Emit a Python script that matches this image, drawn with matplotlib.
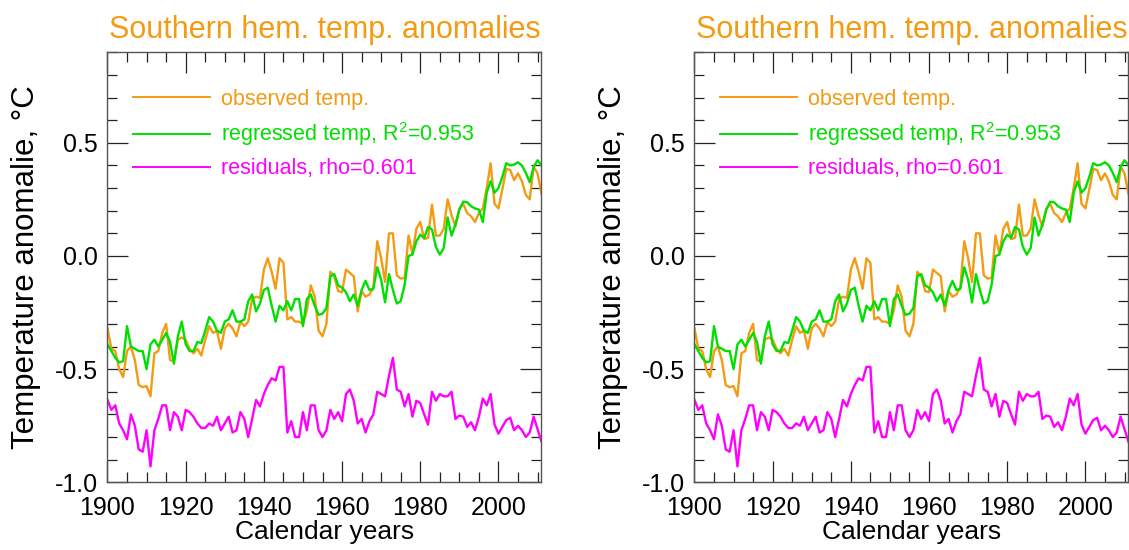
import numpy as np
import matplotlib
matplotlib.use("Agg")
from matplotlib import pyplot as plt
from matplotlib.ticker import MultipleLocator

plt.rcParams['font.family'] = ['Liberation Sans', 'DejaVu Sans']
plt.rcParams['mathtext.fontset'] = 'custom'
plt.rcParams['mathtext.rm'] = 'Liberation Sans'

years = np.arange(1900, 2012)

observed = [
    -0.32, -0.41, -0.42, -0.50, -0.535, -0.42, -0.40, -0.46, -0.57, -0.58,
    -0.575, -0.62, -0.43, -0.42, -0.34, -0.30, -0.46, -0.466, -0.37, -0.36,
    -0.37, -0.41, -0.43, -0.41, -0.44, -0.37, -0.31, -0.34, -0.33, -0.41,
    -0.32, -0.30, -0.32, -0.355, -0.29, -0.31, -0.29, -0.19, -0.18, -0.185,
    -0.06, -0.01, -0.07, -0.145, -0.01, -0.03, -0.28, -0.27, -0.29, -0.29,
    -0.30, -0.24, -0.13, -0.18, -0.33, -0.355, -0.30, -0.07, -0.09, -0.155,
    -0.16, -0.06, -0.075, -0.09, -0.245, -0.155, -0.18, -0.17, -0.14, 0.065,
    -0.01, -0.115, 0.10, 0.10, -0.085, -0.10, -0.097, 0.09, 0.01, 0.12,
    0.15, 0.075, 0.08, 0.227, 0.09, 0.09, 0.12, 0.25, 0.18, 0.13,
    0.21, 0.23, 0.19, 0.175, 0.15, 0.19, 0.21, 0.30, 0.41, 0.23,
    0.21, 0.295, 0.385, 0.38, 0.335, 0.365, 0.33, 0.27, 0.25, 0.395,
    0.365, 0.275,
]

regressed = [
    -0.39, -0.42, -0.45, -0.47, -0.465, -0.31, -0.40, -0.41, -0.42, -0.42,
    -0.50, -0.39, -0.37, -0.40, -0.37, -0.34, -0.38, -0.476, -0.355, -0.29,
    -0.39, -0.42, -0.42, -0.38, -0.385, -0.33, -0.27, -0.29, -0.33, -0.34,
    -0.29, -0.28, -0.24, -0.29, -0.29, -0.28, -0.20, -0.17, -0.245, -0.21,
    -0.15, -0.14, -0.22, -0.29, -0.22, -0.24, -0.20, -0.24, -0.19, -0.19,
    -0.31, -0.19, -0.17, -0.22, -0.26, -0.255, -0.23, -0.09, -0.08, -0.13,
    -0.14, -0.16, -0.20, -0.17, -0.22, -0.15, -0.11, -0.15, -0.145, -0.05,
    -0.105, -0.205, -0.08, -0.15, -0.21, -0.20, -0.127, 0.0, 0.006, 0.065,
    0.094, 0.08, 0.128, 0.117, 0.04, 0.006, 0.035, 0.17, 0.09, 0.14,
    0.205, 0.24, 0.237, 0.22, 0.21, 0.205, 0.15, 0.28, 0.33, 0.28,
    0.30, 0.35, 0.41, 0.40, 0.404, 0.414, 0.40, 0.367, 0.326, 0.394,
    0.423, 0.40,
]

# residuals as drawn (shifted down in the plot)
residuals = [
    -0.636, -0.68, -0.66, -0.74, -0.77, -0.81, -0.70, -0.75, -0.855, -0.865,
    -0.77, -0.93, -0.77, -0.72, -0.66, -0.66, -0.77, -0.69, -0.71, -0.77,
    -0.68, -0.69, -0.71, -0.74, -0.76, -0.76, -0.74, -0.75, -0.71, -0.77,
    -0.74, -0.71, -0.78, -0.77, -0.69, -0.72, -0.80, -0.72, -0.636, -0.665,
    -0.61, -0.57, -0.54, -0.55, -0.49, -0.49, -0.78, -0.73, -0.80, -0.80,
    -0.69, -0.77, -0.66, -0.66, -0.77, -0.80, -0.77, -0.68, -0.72, -0.69,
    -0.73, -0.61, -0.59, -0.64, -0.74, -0.72, -0.78, -0.73, -0.70, -0.60,
    -0.61, -0.62, -0.53, -0.45, -0.59, -0.60, -0.665, -0.61, -0.71, -0.64,
    -0.65, -0.70, -0.745, -0.60, -0.64, -0.61, -0.62, -0.62, -0.60, -0.72,
    -0.705, -0.71, -0.755, -0.735, -0.77, -0.71, -0.63, -0.66, -0.61, -0.745,
    -0.785, -0.755, -0.725, -0.715, -0.77, -0.75, -0.77, -0.80, -0.78, -0.71,
    -0.765, -0.82,
]

r2 = 0.953
rho = 0.601

ORANGE = '#F39B12'
GREEN = '#00E000'
MAGENTA = '#FF00FF'


def draw_panel(ax):
    ax.plot(years, observed, color=ORANGE, lw=1.7, label='observed temp.')
    ax.plot(years, regressed, color=GREEN, lw=1.7,
            label='regressed temp, R$^2$=%.3f' % r2)
    ax.plot(years, residuals, color=MAGENTA, lw=1.7,
            label='residuals, rho=%.3f' % rho)
    ax.set_xlim(1900, 2011)
    ax.set_ylim(-1.0, 0.9)
    ax.xaxis.set_major_locator(MultipleLocator(20))
    ax.xaxis.set_minor_locator(MultipleLocator(5))
    ax.yaxis.set_major_locator(MultipleLocator(0.5))
    ax.yaxis.set_minor_locator(MultipleLocator(0.1))
    ax.yaxis.set_major_formatter(lambda v, p: '%.1f' % v)
    ax.tick_params(which='both', direction='in', top=True, right=True,
                   labelsize=18, width=0.9, color='#222222')
    ax.tick_params(which='major', length=15)
    ax.tick_params(axis='x', which='major', pad=10)
    ax.tick_params(axis='y', which='major', pad=7)
    ax.tick_params(which='minor', length=7.5)
    for s in ax.spines.values():
        s.set_color('#555555')
        s.set_linewidth(1.0)
    ax.set_xlabel('Calendar years', fontsize=19, labelpad=0)
    ax.set_ylabel('Temperature anomalie, °C', fontsize=22.5, labelpad=10)
    ax.set_title('Southern hem. temp. anomalies', color=ORANGE,
                 fontsize=22, pad=10)
    leg = ax.legend(loc='upper left', bbox_to_anchor=(0.058, 0.915),
                    frameon=False, fontsize=15.5, handlelength=3.6,
                    handletextpad=0.5, labelspacing=0.48, borderpad=0,
                    borderaxespad=0, labelcolor='linecolor')
    for line in leg.get_lines():
        line.set_linewidth(1.4)


fig = plt.figure(figsize=(11.29, 5.5), dpi=100)
ax1 = fig.add_axes([0.0952, 0.1231, 0.3844, 0.7818])
ax2 = fig.add_axes([0.6151, 0.1231, 0.3844, 0.7818])
draw_panel(ax1)
draw_panel(ax2)

fig.savefig('out.png', dpi=100)
